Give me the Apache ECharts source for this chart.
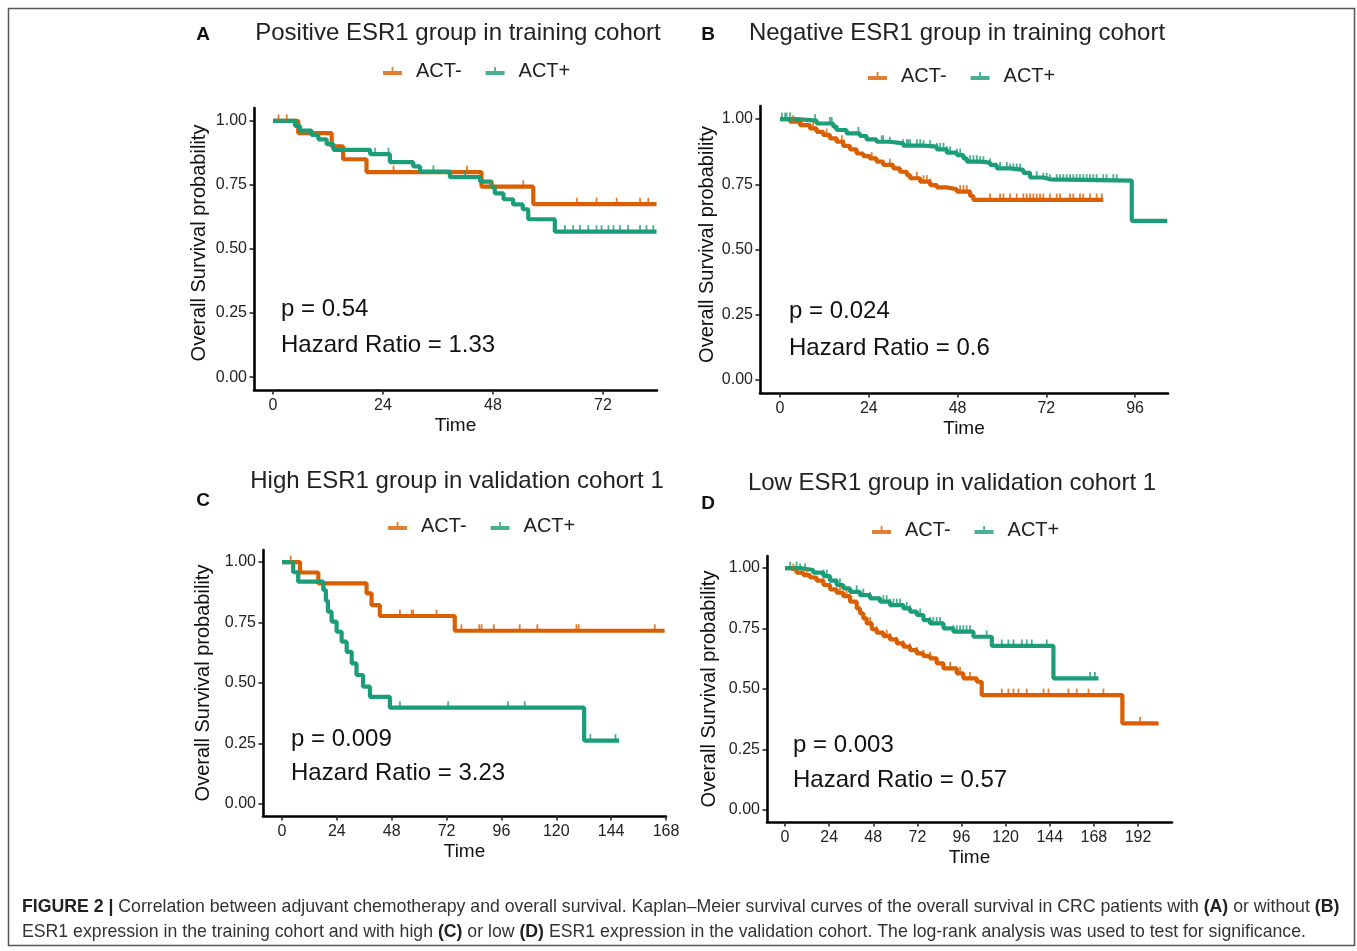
<!DOCTYPE html>
<html><head><meta charset="utf-8">
<script src="https://cdn.jsdelivr.net/npm/echarts@6/dist/echarts.min.js"></script>
<style>html,body{margin:0;padding:0;background:#fff}#c{width:1357px;height:951px}</style>
</head><body><div id="c"></div>
<script>
// ---------------- DATA ----------------
const groupNames = ['ACT-', 'ACT+'];
const yTicks = [0, 0.25, 0.5, 0.75, 1];

// Panel A: Positive ESR1 group in training cohort
const ticksA = [0, 24, 48, 72];
const aNegT = [0, 5.5, 12.8, 15.3, 20.4, 45.5, 56.8, 83.7];
const aNegS = [1, 0.952, 0.900, 0.850, 0.800, 0.743, 0.675, 0.675];
const aNegC = [1.2, 3.0, 26.3, 42.3, 47.7, 54.6, 66.3, 70.6, 75.0, 80.1, 81.9];
const aPosT = [0, 4.8, 5.9, 8.4, 9.9, 11.7, 13.2, 21.2, 25.5, 30.6, 32.1, 38.6, 45.2, 47.7, 48.4, 50.3, 52.4, 54.5, 55.7, 61.5, 83.7];
const aPosS = [1, 0.980, 0.962, 0.945, 0.928, 0.909, 0.887, 0.870, 0.839, 0.822, 0.802, 0.780, 0.763, 0.741, 0.717, 0.694, 0.674, 0.655, 0.616, 0.568, 0.568];
const aPosC = [22.3, 25.2, 35.0, 41.9, 63.7, 65.5, 67.0, 68.8, 70.6, 71.7, 73.2, 74.3, 75.7, 77.5, 80.1, 81.5, 83.0];

// Panel B: Negative ESR1 group in training cohort
const ticksB = [0, 24, 48, 72, 96];
const bNegT = [0, 2.7, 5.4, 8.1, 9.9, 11.7, 13.5, 15.3, 17.1, 18.9, 20.7, 22.5, 24.3, 26.1, 27.9, 30.6, 32.4, 34.3, 35.2, 37.9, 40.6, 42.4, 45.1, 47.8, 51.4, 52.3, 87.4];
const bNegS = [1, 0.990, 0.977, 0.964, 0.951, 0.939, 0.926, 0.913, 0.897, 0.884, 0.868, 0.858, 0.849, 0.837, 0.824, 0.811, 0.798, 0.785, 0.773, 0.760, 0.747, 0.738, 0.731, 0.722, 0.705, 0.690, 0.690];
const bNegC = [3.6, 5.9, 9.0, 12.6, 16.7, 17.3, 24.8, 29.7, 37.0, 38.8, 39.7, 40.6, 48.7, 49.6, 50.5, 51.4, 56.8, 59.5, 60.4, 62.2, 64.0, 65.8, 66.7, 67.6, 68.5, 69.4, 70.3, 71.2, 73.0, 74.8, 75.7, 78.4, 79.3, 81.1, 82.0, 83.8, 85.6, 87.0];
const bPosT = [0, 4.5, 9.9, 14.4, 15.3, 18.0, 21.6, 23.4, 26.1, 29.7, 33.3, 38.8, 42.4, 45.1, 47.8, 49.6, 50.5, 54.1, 56.8, 58.6, 62.2, 65.8, 67.6, 71.2, 73.0, 95.1, 104.7];
const bPosS = [1, 0.994, 0.983, 0.971, 0.958, 0.945, 0.935, 0.922, 0.913, 0.907, 0.898, 0.894, 0.884, 0.871, 0.862, 0.849, 0.837, 0.833, 0.824, 0.811, 0.805, 0.794, 0.776, 0.769, 0.764, 0.610, 0.610];
const bPosC = [0.5, 1.4, 1.8, 2.7, 9.5, 13.5, 14.0, 21.2, 27.5, 27.9, 29.7, 33.3, 34.3, 34.7, 35.2, 37.0, 37.9, 38.8, 40.6, 42.4, 43.3, 44.2, 45.1, 46.0, 47.8, 48.7, 51.4, 52.3, 53.2, 54.1, 55.0, 56.8, 59.5, 61.3, 62.2, 63.1, 64.0, 64.9, 67.6, 69.4, 71.2, 72.1, 73.0, 74.8, 75.7, 76.6, 77.5, 78.4, 79.3, 80.2, 81.1, 82.0, 82.9, 83.8, 84.7, 85.6, 87.4, 88.3, 90.1, 91.0];

// Panel C: High ESR1 group in validation cohort 1
const ticksC = [0, 24, 48, 72, 96, 120, 144, 168];
const cNegT = [0, 7.9, 15.9, 37.0, 39.2, 42.8, 75.6, 167.4];
const cNegS = [1, 0.957, 0.912, 0.871, 0.822, 0.777, 0.716, 0.716];
const cNegC = [3.8, 51.6, 56.7, 57.4, 67.6, 78.5, 86.3, 87.3, 92.7, 104.0, 111.7, 128.8, 129.8, 163.1];
const cPosT = [0, 4.9, 7.1, 18.1, 19.2, 20.1, 21.7, 23.9, 26.1, 28.3, 30.5, 32.6, 35.5, 38.5, 47.2, 132.2, 147.5];
const cPosS = [1, 0.958, 0.919, 0.885, 0.840, 0.795, 0.754, 0.712, 0.671, 0.629, 0.581, 0.533, 0.485, 0.443, 0.398, 0.262, 0.262];
const cPosC = [51.6, 72.7, 98.9, 106.2, 134.9, 145.9];

// Panel D: Low ESR1 group in validation cohort 1
const ticksD = [0, 24, 48, 72, 96, 120, 144, 168, 192];
const dNegT = [0, 2.7, 6.3, 10.0, 13.6, 17.2, 20.9, 24.5, 28.1, 31.7, 35.4, 39.0, 40.8, 42.6, 44.4, 47.2, 49.9, 53.5, 57.1, 60.8, 64.4, 68.0, 71.7, 75.3, 78.9, 82.5, 86.2, 93.4, 97.0, 104.3, 107.0, 183.5, 203.2];
const dNegS = [1, 0.992, 0.981, 0.971, 0.961, 0.948, 0.930, 0.912, 0.898, 0.884, 0.861, 0.833, 0.813, 0.792, 0.771, 0.747, 0.733, 0.719, 0.705, 0.689, 0.675, 0.661, 0.647, 0.636, 0.627, 0.606, 0.585, 0.565, 0.544, 0.530, 0.475, 0.358, 0.358];
const dNegC = [4.5, 11.8, 20.9, 24.5, 29.9, 33.5, 46.3, 49.9, 55.3, 57.1, 60.8, 64.4, 68.0, 71.7, 75.3, 78.9, 82.5, 86.2, 89.8, 93.4, 95.2, 100.6, 117.9, 121.5, 124.3, 127.0, 131.5, 140.6, 143.3, 154.2, 158.7, 165.1, 173.2, 193.2];
const dPosT = [0, 8.2, 15.4, 20.9, 24.5, 28.1, 31.7, 35.4, 40.8, 46.3, 51.7, 57.1, 64.4, 68.0, 71.7, 75.3, 78.9, 86.2, 91.6, 102.5, 112.5, 146.0, 170.5];
const dPosS = [1, 0.992, 0.981, 0.967, 0.948, 0.930, 0.916, 0.902, 0.888, 0.875, 0.861, 0.847, 0.833, 0.820, 0.806, 0.785, 0.771, 0.751, 0.737, 0.716, 0.678, 0.544, 0.544];
const dPosC = [2.7, 6.3, 8.2, 10.9, 20.9, 22.7, 28.1, 29.9, 39.0, 42.6, 46.3, 53.5, 55.3, 57.1, 59.0, 60.8, 62.6, 66.2, 68.0, 73.5, 75.3, 78.9, 80.7, 82.5, 84.3, 86.2, 91.6, 93.4, 95.2, 97.0, 98.8, 100.6, 109.7, 117.9, 121.5, 124.3, 128.8, 131.5, 134.2, 142.4, 165.9, 168.6];

const titles = ['Positive ESR1 group in training cohort', 'Negative ESR1 group in training cohort',
                'High ESR1 group in validation cohort 1', 'Low ESR1 group in validation cohort 1'];
const letters = ['A', 'B', 'C', 'D'];
const pValues = ['p = 0.54', 'p = 0.024', 'p = 0.009', 'p = 0.003'];
const hazardRatios = ['Hazard Ratio = 1.33', 'Hazard Ratio = 0.6', 'Hazard Ratio = 3.23', 'Hazard Ratio = 0.57'];

// ---------------- LAYOUT / STYLE ----------------
const FONT = '"Liberation Sans", Arial, Helvetica, sans-serif';
const COL_NEG = '#D95F02', COL_POS = '#1B9E77';
const ICON = 'path://M0,4 L19,4 L19,8 L0,8 Z M8.6,0 L10.4,0 L10.4,4 L8.6,4 Z';

const panels = [
  { grid:{left:254, top:108, width:403, height:282}, xr:[-4.15, 83.8], ticks:ticksA,
    neg:[aNegT, aNegS, aNegC], pos:[aPosT, aPosS, aPosC],
    yGap:45, yPad:[0,0,0,12], letter:[203,35], title:[458,33], legend:[378,56], ann:[281,309,345.5] },
  { grid:{left:760, top:106, width:408, height:287}, xr:[-5.41, 104.9], ticks:ticksB,
    neg:[bNegT, bNegS, bNegC], pos:[bPosT, bPosS, bPosC],
    yGap:42, yPad:[0,0,0,10], letter:[708,35], title:[957,33], legend:[863,61], ann:[789,311,348] },
  { grid:{left:263, top:550, width:403, height:266}, xr:[-8.3, 168], ticks:ticksC,
    neg:[cNegT, cNegS, cNegC], pos:[cPosT, cPosS, cPosC],
    yGap:50, yPad:[0,0,0,0], letter:[203,501], title:[457,481], legend:[383,511], ann:[291,739,773.5] },
  { grid:{left:767, top:556, width:405, height:266}, xr:[-9.8, 210.5], ticks:ticksD,
    neg:[dNegT, dNegS, dNegC], pos:[dPosT, dPosS, dPosC],
    yGap:48, yPad:[0,0,0,0], letter:[708,504], title:[952,483], legend:[867,515], ann:[793,745,780] }
];

function zip(t, s) { return t.map((v, i) => [v, s[i]]); }
function survAt(t, s, x) { let k = 0; for (let i = 0; i < t.length; i++) if (t[i] <= x) k = i; return s[k]; }

const grid = [], xAxis = [], yAxis = [], series = [], legend = [], graphic = [];

graphic.push({ type:'rect', silent:true, shape:{x:8.5, y:8.5, width:1346, height:937},
  style:{fill:'none', stroke:'#555', lineWidth:1.5} });

panels.forEach((p, i) => {
  grid.push(Object.assign({ containLabel:false }, p.grid));
  xAxis.push({
    type:'value', gridIndex:i, min:p.xr[0], max:p.xr[1],
    name:'Time', nameLocation:'middle', nameGap:26,
    nameTextStyle:{ fontSize:19, color:'#111', fontFamily:FONT },
    axisLine:{ onZero:false, lineStyle:{ color:'#000', width:2.6 } },
    axisTick:{ customValues:p.ticks, length:4.5, lineStyle:{ color:'#222', width:1.6 } },
    axisLabel:{ customValues:p.ticks, margin:8, fontSize:16, color:'#222', fontFamily:FONT },
    splitLine:{ show:false }
  });
  yAxis.push({
    type:'value', gridIndex:i, min:-0.05, max:1.05,
    name:'Overall Survival probability', nameLocation:'middle', nameGap:p.yGap,
    nameTextStyle:{ fontSize:20, color:'#111', fontFamily:FONT, padding:p.yPad },
    axisLine:{ onZero:false, lineStyle:{ color:'#000', width:2.6 } },
    axisTick:{ customValues:yTicks, length:4.5, lineStyle:{ color:'#222', width:1.6 } },
    axisLabel:{ customValues:yTicks, margin:7, fontSize:16, color:'#222', fontFamily:FONT,
                formatter: v => Number(v).toFixed(2) },
    splitLine:{ show:false }
  });
  const groups = [[p.neg, COL_NEG, groupNames[0]], [p.pos, COL_POS, groupNames[1]]];
  // censor marks first (so legend icons come from plain symbol series)
  groups.forEach(([g, col, nm]) => {
    series.push({
      type:'scatter', name:nm, xAxisIndex:i, yAxisIndex:i, z:4, silent:true,
      symbol:'rect', symbolSize:[1.8, 6.5], symbolOffset:[0, -3.2],
      itemStyle:{ color:col },
      data: g[2].map(c => [c, survAt(g[0], g[1], c)])
    });
  });
  groups.forEach(([g, col, nm]) => {
    series.push({
      type:'line', name:nm, xAxisIndex:i, yAxisIndex:i, z:3, silent:true,
      step:'end', showSymbol:false, symbol:'none',
      lineStyle:{ color:col, width:4.2 }, itemStyle:{ color:col },
      data: zip(g[0], g[1])
    });
  });
  legend.push({
    left:p.legend[0], top:p.legend[1], orient:'horizontal', itemGap:24,
    itemWidth:19, itemHeight:8, selectedMode:false,
    data: groupNames.map(n => ({ name:n, icon:ICON })),
    textStyle:{ fontSize:20, color:'#222', fontFamily:FONT, padding:[0,0,0,9] }
  });
  graphic.push({ type:'text', silent:true, x:p.letter[0], y:p.letter[1],
    style:{ text:letters[i], fontSize:19, fontWeight:'bold', fontFamily:FONT, fill:'#111',
            textAlign:'center', textVerticalAlign:'middle', align:'center', verticalAlign:'middle' } });
  graphic.push({ type:'text', silent:true, x:p.title[0], y:p.title[1],
    style:{ text:titles[i], fontSize:24, fontFamily:FONT, fill:'#222',
            textAlign:'center', textVerticalAlign:'middle', align:'center', verticalAlign:'middle' } });
  graphic.push({ type:'text', silent:true, x:p.ann[0], y:p.ann[1],
    style:{ text:pValues[i], fontSize:24, fontFamily:FONT, fill:'#111',
            textAlign:'left', textVerticalAlign:'middle', align:'left', verticalAlign:'middle' } });
  graphic.push({ type:'text', silent:true, x:p.ann[0], y:p.ann[2],
    style:{ text:hazardRatios[i], fontSize:24, fontFamily:FONT, fill:'#111',
            textAlign:'left', textVerticalAlign:'middle', align:'left', verticalAlign:'middle' } });
});

const captionLines = [
  '{b|FIGURE 2 |} Correlation between adjuvant chemotherapy and overall survival. Kaplan–Meier survival curves of the overall survival in CRC patients with {b|(A)} or without {b|(B)}',
  'ESR1 expression in the training cohort and with high {b|(C)} or low {b|(D)} ESR1 expression in the validation cohort. The log-rank analysis was used to test for significance.'
];
[907, 932].forEach((y, k) => {
  graphic.push({ type:'text', silent:true, x:22, y:y,
    style:{ text:captionLines[k], fontSize:17.7, fontFamily:FONT, fill:'#333',
            textAlign:'left', textVerticalAlign:'middle', align:'left', verticalAlign:'middle',
            rich:{ b:{ fontWeight:'bold', fontSize:17.7, fontFamily:FONT, fill:'#222', color:'#222' } } } });
});

const chart = echarts.init(document.getElementById('c'), null, { renderer:'canvas' });
chart.setOption({
  backgroundColor:'#fff', animation:false,
  grid, xAxis, yAxis, series, legend, graphic
});
</script></body></html>
